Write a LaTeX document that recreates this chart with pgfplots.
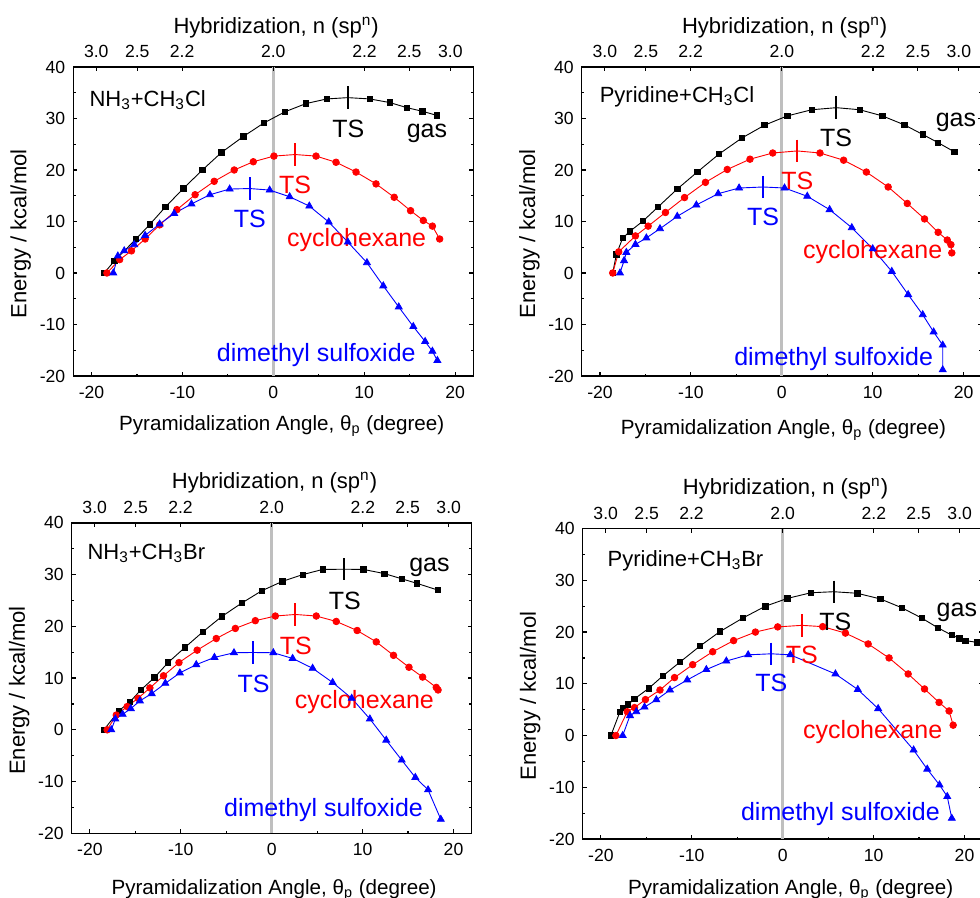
\documentclass[border=0pt]{standalone}
\usepackage{fontspec}
\setmainfont{Liberation Sans}
\usepackage{pgfplots}
\usepackage{pgfplotstable}
\pgfplotsset{compat=1.18}

% x = pyramidalization angle, y = energy, t = 1 marks the TS point
\pgfplotstableread{
x y t
-18.6 0 0
-17.5 2.3 0
-15.1 6.6 0
-13.6 9.4 0
-11.85 12.85 0
-9.9 16.4 0
-7.8 20.0 0
-5.7 23.4 0
-3.3 26.5 0
-1.06 29.1 0
1.28 31.3 0
3.6 32.9 0
5.9 33.8 0
8.2 34.05 1
10.6 33.8 0
12.8 33.1 0
14.7 32.1 0
16.4 31.4 0
18.0 30.6 0
}\gasA
\pgfplotstableread{
x y t
-18.3 0 0
-16.9 2.6 0
-15.6 4.3 0
-14.1 6.6 0
-12.5 9.35 0
-10.6 12.3 0
-8.6 15.2 0
-6.5 17.8 0
-4.3 20.0 0
-2.2 21.6 0
0.07 22.7 0
2.4 23.0 1
4.7 22.7 0
6.9 21.5 0
9.1 19.6 0
11.3 17.3 0
13.3 14.7 0
15.1 12.1 0
16.5 10.2 0
17.5 9.1 0
18.3 6.6 0
}\cycA
\pgfplotstableread{
x y t
-17.6 0 0
-17.1 3.3 0
-16.4 4.3 0
-15.3 5.5 0
-14.1 7.3 0
-12.5 9.5 0
-10.9 11.55 0
-9.0 13.4 0
-6.97 15.2 0
-4.8 16.3 0
-2.6 16.4 1
-0.4 16.1 0
1.8 14.8 0
3.96 13.0 0
6.1 9.9 0
8.2 6.0 0
10.3 2.0 0
12.1 -2.5 0
13.8 -6.6 0
15.4 -10.4 0
16.7 -13.3 0
17.5 -15.2 0
18.05 -17.0 0
}\dmsoA

\pgfplotstableread{
x y t
-18.6 0 0
-18.2 3.6 0
-17.5 6.8 0
-16.7 8.1 0
-15.26 10.1 0
-13.6 12.85 0
-11.5 16.3 0
-9.3 19.6 0
-6.9 23.1 0
-4.4 26.2 0
-1.9 28.7 0
0.6 30.5 0
3.3 31.7 0
6.0 32.1 1
8.57 31.7 0
11.07 30.5 0
13.5 28.75 0
15.5 26.9 0
17.2 25.3 0
19.0 23.5 0
}\gasB
\pgfplotstableread{
x y t
-18.6 0 0
-17.94 4.1 0
-16.1 7.2 0
-14.7 9.1 0
-12.8 11.75 0
-10.7 14.65 0
-8.4 17.6 0
-6.0 20.1 0
-3.5 22.1 0
-1.0 23.3 0
1.7 23.7 1
4.2 23.3 0
6.8 21.9 0
9.3 19.6 0
11.7 16.7 0
13.8 13.5 0
15.7 10.5 0
17.2 7.9 0
18.2 6.4 0
18.6 5.5 0
18.7 3.9 0
}\cycB
\pgfplotstableread{
x y t
-17.8 0 0
-17.35 2.4 0
-17.1 4.0 0
-16.1 5.55 0
-14.9 6.8 0
-13.4 8.6 0
-11.5 11.0 0
-9.4 13.2 0
-7.0 15.4 0
-4.7 16.5 0
-2.06 16.7 1
0.3 16.5 0
2.8 14.9 0
5.26 12.3 0
7.7 8.8 0
10.0 4.7 0
12.1 0.3 0
13.9 -4.2 0
15.5 -8.1 0
16.7 -11.45 0
17.7 -14.0 0
17.7 -18.8 0
}\dmsoB

\pgfplotstableread{
x y t
-18.46 0 0
-16.8 3.7 0
-15.6 5.4 0
-14.4 7.7 0
-12.9 10.1 0
-11.4 13.0 0
-9.56 15.9 0
-7.6 18.9 0
-5.5 21.9 0
-3.3 24.5 0
-1.07 26.9 0
1.18 28.7 0
3.4 30.0 0
5.6 31.0 0
7.98 31.05 1
10.1 31.0 0
12.4 30.2 0
14.3 29.2 0
16.0 28.3 0
18.3 27.0 0
}\gasC
\pgfplotstableread{
x y t
-18.1 0 0
-17.1 2.85 0
-15.9 4.5 0
-14.7 6.1 0
-13.4 8.1 0
-11.9 10.45 0
-10.2 13.0 0
-8.2 15.4 0
-6.1 17.65 0
-4.0 19.6 0
-1.8 21.1 0
0.4 22.0 0
2.6 22.3 1
4.9 22.0 0
7.1 20.95 0
9.4 19.2 0
11.5 17.0 0
13.4 14.4 0
15.1 12.1 0
16.6 10.2 0
18.1 8.2 0
18.3 7.7 0
}\cycC
\pgfplotstableread{
x y t
-17.65 0 0
-17.2 2.1 0
-16.4 3.0 0
-15.5 4.1 0
-14.5 5.6 0
-13.2 7.0 0
-11.7 9.0 0
-10.1 11.0 0
-8.3 12.6 0
-6.3 14.0 0
-4.15 14.9 0
-2.1 14.95 1
0.18 14.9 0
2.3 13.8 0
4.5 11.9 0
6.7 9.15 0
8.8 6.1 0
10.8 2.1 0
12.6 -2.0 0
14.3 -5.85 0
15.8 -9.2 0
17.2 -11.6 0
18.6 -17.3 0
}\dmsoC

\pgfplotstableread{
x y t
-18.9 0 0
-17.9 4.6 0
-17.6 5.3 0
-17.0 6.0 0
-16.3 7.1 0
-14.75 9.1 0
-13.2 11.5 0
-11.3 14.2 0
-9.1 17.3 0
-6.9 20.1 0
-4.4 22.7 0
-1.9 25.0 0
0.5 26.5 0
3.1 27.6 0
5.6 27.8 1
8.2 27.5 0
10.75 26.4 0
13.1 24.7 0
15.3 22.7 0
17.1 20.8 0
18.6 19.4 0
19.45 18.8 0
20.1 18.35 0
21.4 18.0 0
}\gasD
\pgfplotstableread{
x y t
-18.35 0 0
-17.1 4.6 0
-16.3 5.4 0
-15.1 6.95 0
-13.5 8.8 0
-11.9 11.2 0
-9.9 13.7 0
-7.7 16.2 0
-5.4 18.35 0
-3.0 20.0 0
-0.55 21.0 0
2.1 21.3 1
4.4 21.05 0
6.9 19.8 0
9.4 17.7 0
11.7 15.0 0
13.8 11.9 0
15.6 9.0 0
17.2 6.4 0
18.3 4.75 0
18.75 2.0 0
}\cycD
\pgfplotstableread{
x y t
-17.6 0 0
-16.8 3.85 0
-16.1 4.6 0
-15.2 5.5 0
-13.9 6.9 0
-12.4 8.8 0
-10.5 10.75 0
-8.4 12.75 0
-6.2 14.4 0
-3.8 15.6 0
-1.25 15.8 1
0.84 15.6 0
5.8 11.9 0
8.26 8.9 0
10.5 5.2 0
14.4 -2.8 0
15.9 -6.5 0
17.25 -9.55 0
18.1 -11.8 0
18.6 -16.0 0
}\dmsoD

\pgfplotsset{
  panel/.style={
    width=200pt, height=154.5pt, scale only axis,
    xmin=-22, xmax=22, ymin=-20, ymax=40,
    /pgf/number format/assume math mode=true,
    tick label style={font=\fontsize{8.8}{10}\selectfont},
    axis line style={line width=0.6pt},
    tick style={line width=0.6pt, black},
    major tick length=2pt, minor tick length=1.2pt,
    tick align=inside, clip=false,
  },
  main/.style={panel,
    xtick={-20,-10,0,10,20}, minor xtick={-15,-5,5,15},
    ytick={-20,-10,...,40}, minor ytick={-15,-5,...,35},
    xtick pos=left, ytick pos=both, yticklabel pos=left,
    xticklabel style={yshift=-1.5pt},
    yticklabel style={xshift=-0.5pt},
    xlabel={Pyramidalization Angle, θ\textsubscript{p} (degree)},
    xlabel style={font=\fontsize{10.3}{12}\selectfont},
    ylabel={Energy / kcal/mol},
    ylabel style={at={(axis description cs:-0.117,0.46)}, anchor=base,
      font=\fontsize{11}{13}\selectfont},
  },
  hyb/.style={panel,
    axis line style={draw=none},
    ytick=\empty,
    xtick={-19.47,-14.96,-10.03,0,10.03,14.96,19.47},
    xticklabels={3.0,2.5,2.2,2.0,2.2,2.5,3.0},
    xtick pos=right, xticklabel pos=right,
    xticklabel style={yshift=1pt},
    xlabel={Hybridization, n (sp\textsuperscript{n})},
    xlabel style={at={(axis description cs:0.507,1.11)}, anchor=base,
      font=\fontsize{11}{13}\selectfont},
  },
  zeroline/.style={black!25, line width=1.6pt, forget plot},
}
\tikzset{
  ann/.style={anchor=base, inner sep=0pt, font=\fontsize{12.5}{14}\selectfont},
  plab/.style={anchor=base west, inner sep=0pt, font=\fontsize{11}{13}\selectfont},
}

\newcommand\series[4]{%
  \addplot[#2, line width=0.45pt] table {#1};
  \addplot[#2, only marks, mark=#3, mark size=#4,
    restrict expr to domain={\thisrow{t}}{0:0}] table {#1};
  \addplot[#2, only marks, mark=|, mark size=5.6pt, mark options={line width=1pt},
    restrict expr to domain={\thisrow{t}}{1:1}] table {#1};
}
\newcommand\allseries[3]{%
  \series{#1}{black}{square*}{1.35pt}
  \series{#2}{red}{*}{1.65pt}
  \series{#3}{blue}{triangle*}{2pt}
}

\begin{document}
\begin{tikzpicture}
\useasboundingbox (0,0) rectangle (490pt,449pt);

% top left: NH3 + CH3Cl
\begin{axis}[main, at={(36.65pt,261pt)}, anchor=south west,
  xlabel style={at={(axis description cs:0.521,-0.177)}, anchor=base}]
\addplot[zeroline] coordinates {(0,-20) (0,40)};
\allseries{\gasA}{\cycA}{\dmsoA}
\node[plab] at (axis cs:-20.26,32.37) {NH\textsubscript{3}+CH\textsubscript{3}Cl};
\node[ann] at (axis cs:8.26,26.4) {TS};
\node[ann] at (axis cs:16.9,26.4) {gas};
\node[ann, text=red] at (axis cs:2.39,15.4) {TS};
\node[ann, text=blue] at (axis cs:-2.57,8.8) {TS};
\node[ann, text=red] at (axis cs:9.17,5.1) {cyclohexane};
\node[ann, text=blue] at (axis cs:4.73,-17.1) {dimethyl sulfoxide};
\end{axis}
\begin{axis}[hyb, at={(36.65pt,261pt)}, anchor=south west]
\end{axis}

% top right: pyridine + CH3Cl
\begin{axis}[main, at={(290.9pt,261pt)}, anchor=south west,
  xlabel style={at={(axis description cs:0.504,-0.19)}, anchor=base}]
\addplot[zeroline] coordinates {(0,-20) (0,40)};
\allseries{\gasB}{\cycB}{\dmsoB}
\node[plab] at (axis cs:-20.07,33.2) {Pyridine+CH\textsubscript{3}Cl};
\node[ann] at (axis cs:5.96,24.5) {TS};
\node[ann, anchor=base west] at (axis cs:16.9,28.4) {gas};
\node[ann, text=red] at (axis cs:1.7,16.2) {TS};
\node[ann, text=blue] at (axis cs:-2.06,9.3) {TS};
\node[ann, text=red] at (axis cs:10.0,2.8) {cyclohexane};
\node[ann, text=blue] at (axis cs:5.7,-18.05) {dimethyl sulfoxide};
\end{axis}
\begin{axis}[hyb, at={(290.9pt,261pt)}, anchor=south west]
\end{axis}

% bottom left: NH3 + CH3Br
\begin{axis}[main, height=155.2pt, at={(35.85pt,32.35pt)}, anchor=south west,
  xlabel style={at={(axis description cs:0.506,-0.196)}, anchor=base}]
\addplot[zeroline] coordinates {(0,-20) (0,40)};
\allseries{\gasC}{\cycC}{\dmsoC}
\node[plab] at (axis cs:-20.3,32.9) {NH\textsubscript{3}+CH\textsubscript{3}Br};
\node[ann] at (axis cs:8.05,23.3) {TS};
\node[ann] at (axis cs:17.35,30.7) {gas};
\node[ann, text=red] at (axis cs:2.65,14.6) {TS};
\node[ann, text=blue] at (axis cs:-2.0,7.2) {TS};
\node[ann, text=red] at (axis cs:10.2,4.1) {cyclohexane};
\node[ann, text=blue] at (axis cs:5.7,-16.7) {dimethyl sulfoxide};
\end{axis}
\begin{axis}[hyb, height=155.2pt, at={(35.85pt,32.35pt)}, anchor=south west]
\end{axis}

% bottom right: pyridine + CH3Br
\begin{axis}[main, height=155.2pt, at={(291.35pt,29.5pt)}, anchor=south west,
  xlabel style={at={(axis description cs:0.52,-0.18)}, anchor=base}]
\addplot[zeroline] coordinates {(0,-20) (0,40)};
\allseries{\gasD}{\cycD}{\dmsoD}
\node[plab] at (axis cs:-19.3,32.65) {Pyridine+CH\textsubscript{3}Br};
\node[ann] at (axis cs:5.8,20.4) {TS};
\node[ann, anchor=base west] at (axis cs:16.9,23.0) {gas};
\node[ann, text=red] at (axis cs:2.1,14.0) {TS};
\node[ann, text=blue] at (axis cs:-1.25,8.5) {TS};
\node[ann, text=red] at (axis cs:9.9,-0.5) {cyclohexane};
\node[ann, text=blue] at (axis cs:6.35,-16.4) {dimethyl sulfoxide};
\end{axis}
\begin{axis}[hyb, height=155.2pt, at={(291.35pt,29.5pt)}, anchor=south west]
\end{axis}
\end{tikzpicture}
\end{document}
